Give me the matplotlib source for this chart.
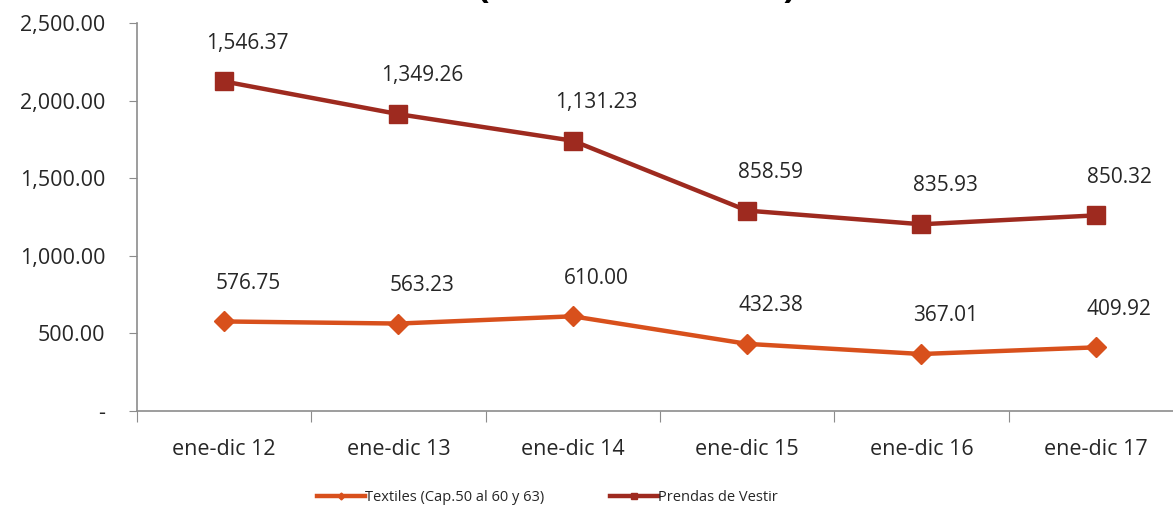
import matplotlib.pyplot as plt
import numpy as np
from matplotlib.ticker import FuncFormatter, FixedLocator

plt.rcParams["font.family"] = ["Open Sans", "DejaVu Sans"]

periods = ["ene-dic 12", "ene-dic 13", "ene-dic 14", "ene-dic 15", "ene-dic 16", "ene-dic 17"]
textiles = [576.75, 563.23, 610.00, 432.38, 367.01, 409.92]
prendas = [1546.37, 1349.26, 1131.23, 858.59, 835.93, 850.32]

C_TEX = "#D8501C"
C_PRE = "#9E2A1F"
AXIS_GREY = "#8c8c8c"
TXT = "#262626"

fig = plt.figure(figsize=(11.73, 5.08), dpi=100)
ax = fig.add_axes([0.1168, 0.191, 0.8917, 0.7638])

x = np.arange(len(periods))
tex = np.array(textiles)
stacked = tex + np.array(prendas)

ax.plot(x, tex, color=C_TEX, lw=3.2, marker="D", ms=10, label="Textiles (Cap.50 al 60 y 63)")
ax.plot(x, stacked, color=C_PRE, lw=3.2, marker="s", ms=12.5, label="Prendas de Vestir")

for xi, yi, v in zip(x, tex, textiles):
    ax.annotate(f"{v:,.2f}", (xi, yi), xytext=(17, 20), textcoords="offset points",
                ha="center", va="bottom", fontsize=15, color=TXT)
for xi, yi, v in zip(x, stacked, prendas):
    ax.annotate(f"{v:,.2f}", (xi, yi), xytext=(17, 20), textcoords="offset points",
                ha="center", va="bottom", fontsize=15, color=TXT)

ax.set_xlim(-0.5, len(periods) - 0.5)
ax.set_ylim(0, 2500)
ax.set_yticks(np.arange(0, 2501, 500))
ax.yaxis.set_major_formatter(FuncFormatter(lambda v, p: "-" if v == 0 else f"{v:,.2f}"))

ax.xaxis.set_major_locator(FixedLocator(np.arange(-0.5, len(periods), 1.0)))
ax.xaxis.set_minor_locator(FixedLocator(x))
ax.set_xticklabels([], minor=False)
ax.set_xticklabels(periods, minor=True)
ax.tick_params(axis="x", which="major", length=8, color=AXIS_GREY)
ax.tick_params(axis="x", which="minor", length=0, pad=20, labelsize=15.5, labelcolor=TXT)
ax.tick_params(axis="y", length=6, color=AXIS_GREY, labelsize=15.5, pad=17, labelcolor=TXT)

for s in ["top", "right"]:
    ax.spines[s].set_visible(False)
for s in ["left", "bottom"]:
    ax.spines[s].set_color(AXIS_GREY)
    ax.spines[s].set_linewidth(1.2)

fig.legend(loc="center", bbox_to_anchor=(0.467, 0.021), ncol=2, frameon=False,
           fontsize=10.5, handlelength=3.3, markerscale=0.35, columnspacing=4.5,
           handletextpad=0.0, labelcolor=TXT)

# title sits above the crop, only the tails of its brackets show
fig.text(0.543, 1.0 + 3.0 / 508, "(Millones de US$)", ha="center", va="baseline",
         fontsize=27, fontweight="bold")

fig.savefig("out.png", dpi=100)
